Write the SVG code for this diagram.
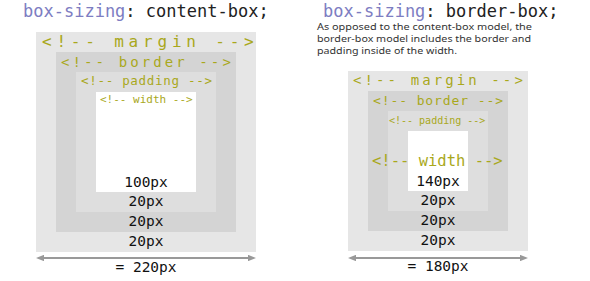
<svg xmlns="http://www.w3.org/2000/svg" width="590" height="281" viewBox="0 0 590 281">
  <style>
    .mono { font-family: "DejaVu Sans Mono", "Liberation Mono", monospace; }
    .title { font-size: 17px; fill: #222222; }
    .prop { fill: #7d7dc2; }
    .lbl { fill: #a9a81c; }
    .num { font-size: 14.5px; fill: #111111; text-anchor: middle; }
    .desc { font-family: "Noto Sans", "Liberation Sans", sans-serif; font-size: 8.7px; fill: #333333; }
    .margin { fill: #e6e6e6; }
    .border { fill: #d4d4d4; }
    .padding { fill: #dedede; }
    .content { fill: #ffffff; }
    .dim { stroke: #999999; stroke-width: 2; fill: none; }
  </style>
  <defs>
    <marker id="arrowhead" viewBox="0 0 10 8" refX="5" refY="4" markerWidth="4" markerHeight="3.2" orient="auto-start-reverse" markerUnits="strokeWidth">
      <path d="M0,0 L10,4 L0,8 Z" fill="#999999"/>
    </marker>
  </defs>

  <rect width="590" height="281" fill="#ffffff"/>

  <!-- content-box model -->
  <g id="content-box">
    <text class="mono title" x="23" y="17"><tspan class="prop">box-sizing</tspan>: content-box;</text>
    <g id="cb-margin">
      <rect class="margin" x="36" y="32" width="220" height="220"/>
      <text class="mono lbl" x="42" y="47" font-size="16" letter-spacing="4.8">&lt;!-- margin --&gt;</text>
    </g>
    <g id="cb-border">
      <rect class="border" x="56" y="52" width="180" height="180"/>
      <text class="mono lbl" x="61" y="67" font-size="14" letter-spacing="3.1">&lt;!-- border --&gt;</text>
    </g>
    <g id="cb-padding">
      <rect class="padding" x="76" y="72" width="140" height="140"/>
      <text class="mono lbl" x="81" y="85" font-size="12.5" letter-spacing="0.7">&lt;!-- padding --&gt;</text>
    </g>
    <g id="cb-content">
      <rect class="content" x="96" y="92" width="100" height="100"/>
      <text class="mono lbl" x="100" y="103" font-size="11">&lt;!-- width --&gt;</text>
    </g>
    <text class="mono num" x="146" y="187">100px</text>
    <text class="mono num" x="146" y="206">20px</text>
    <text class="mono num" x="146" y="226">20px</text>
    <text class="mono num" x="146" y="246">20px</text>
    <text class="mono num" x="146" y="272">= 220px</text>
  </g>

  <!-- border-box model -->
  <g id="border-box">
    <text class="mono title" x="323" y="17"><tspan class="prop">box-sizing</tspan>: border-box;</text>
    <text class="desc" x="317" y="30" textLength="215" lengthAdjust="spacingAndGlyphs">As opposed to the content-box model, the</text>
    <text class="desc" x="317" y="42" textLength="214" lengthAdjust="spacingAndGlyphs">border-box model includes the border and</text>
    <text class="desc" x="317" y="54" textLength="140" lengthAdjust="spacingAndGlyphs">padding inside of the width.</text>
    <g id="bb-margin">
      <rect class="margin" x="348" y="71" width="180" height="180"/>
      <text class="mono lbl" x="353" y="85" font-size="14" letter-spacing="3.1">&lt;!-- margin --&gt;</text>
    </g>
    <g id="bb-border">
      <rect class="border" x="368" y="91" width="140" height="140"/>
      <text class="mono lbl" x="373" y="105" font-size="13" letter-spacing="0.9">&lt;!-- border --&gt;</text>
    </g>
    <g id="bb-padding">
      <rect class="padding" x="388" y="111" width="100" height="100"/>
      <text class="mono lbl" x="389" y="124" font-size="10">&lt;!-- padding --&gt;</text>
    </g>
    <g id="bb-content">
      <rect class="content" x="408" y="131" width="60" height="60"/>
      <text class="mono lbl" x="372" y="166" font-size="15.5">&lt;!-- width --&gt;</text>
    </g>
    <text class="mono num" x="438" y="186">140px</text>
    <text class="mono num" x="438" y="205">20px</text>
    <text class="mono num" x="438" y="225">20px</text>
    <text class="mono num" x="438" y="245">20px</text>
    <text class="mono num" x="438" y="271">= 180px</text>
  </g>

  <!-- total width dimension lines -->
  <g id="connectors">
    <line class="dim" x1="40" y1="258" x2="252" y2="258" marker-start="url(#arrowhead)" marker-end="url(#arrowhead)"/>
    <line class="dim" x1="352" y1="258" x2="524" y2="258" marker-start="url(#arrowhead)" marker-end="url(#arrowhead)"/>
  </g>
</svg>
